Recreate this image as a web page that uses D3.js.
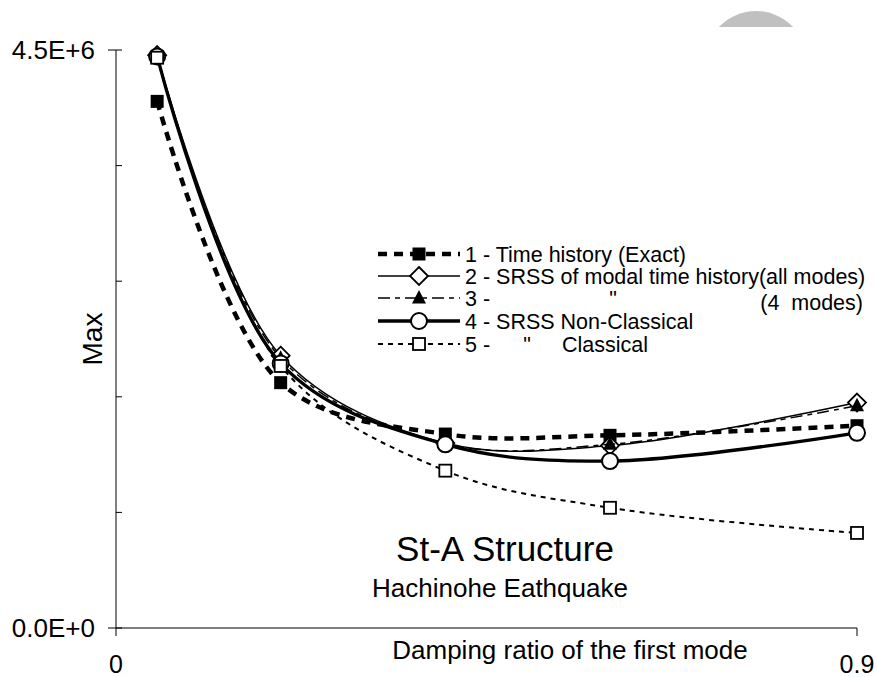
<!DOCTYPE html>
<html>
<head>
<meta charset="utf-8">
<script src="https://cdn.jsdelivr.net/npm/d3@7"></script>
<style>
  body { margin: 0; background: #fff; }
  svg { font-family: "Liberation Sans", Arial, sans-serif; }
</style>
</head>
<body>
<div id="chart"></div>
<script>
var damping = [0.05, 0.2, 0.4, 0.6, 0.9];
var timeHistory = [4.10e6, 1.91e6, 1.51e6, 1.50e6, 1.575e6];
var srssAllModes = [4.46e6, 2.12e6, 1.44e6, 1.42e6, 1.755e6];
var srss4Modes = [4.45e6, 2.10e6, 1.435e6, 1.43e6, 1.73e6];
var srssNonClassical = [4.45e6, 2.06e6, 1.43e6, 1.30e6, 1.52e6];
var srssClassical = [4.44e6, 2.04e6, 1.225e6, 0.936e6, 0.74e6];
var yTicks = [0, 0.9e6, 1.8e6, 2.7e6, 3.6e6, 4.5e6];
var yTickLabels = ["0.0E+0", "", "", "", "", "4.5E+6"];
var xTicks = [0, 0.9];
var xTickLabels = ["0", "0.9"];

var width = 877, height = 677;

var series = [
    { values: timeHistory, width: 4.5, dash: "9,7", marker: "fsquare" },
    { values: srssAllModes, width: 1.5, dash: null, marker: "diamond" },
    { values: srss4Modes, width: 1.5, dash: "12,5,5,5", marker: "triangle" },
    { values: srssNonClassical, width: 3.3, dash: null, marker: "circle" },
    { values: srssClassical, width: 2, dash: "5,5", marker: "osquare" }
];

var svg = d3.select("#chart")
    .append("svg")
    .attr("width", width)
    .attr("height", height);

// grey disc at top, cut off
svg.append("clipPath").attr("id", "topclip")
    .append("rect").attr("x", 0).attr("y", 0).attr("width", width).attr("height", 27);
svg.append("circle")
    .attr("cx", 756).attr("cy", 62).attr("r", 51)
    .attr("fill", "#c0c0c0")
    .attr("clip-path", "url(#topclip)");

var xScale = d3.scaleLinear().domain([0, 0.9]).range([116, 857]);
var yScale = d3.scaleLinear().domain([0, 4.5e6]).range([628, 50]);

// y axis
var yAxis = svg.append("g").attr("transform", "translate(" + xScale(0) + ",0)");
yAxis.append("line")
    .attr("y1", yScale(0)).attr("y2", yScale(4.5e6))
    .attr("stroke", "#000").attr("stroke-width", 1);
yAxis.selectAll(".ytick")
    .data(yTicks)
    .enter().append("line")
    .attr("class", "ytick")
    .attr("x1", function(d, i) { return yTickLabels[i] ? -8 : 0; })
    .attr("x2", 6)
    .attr("y1", function(d) { return yScale(d); })
    .attr("y2", function(d) { return yScale(d); })
    .attr("stroke", "#000");
yAxis.selectAll(".ylab")
    .data(yTicks)
    .enter().append("text")
    .attr("x", -21)
    .attr("y", function(d) { return yScale(d); })
    .attr("dy", "0.36em")
    .attr("text-anchor", "end")
    .style("font-size", "26px")
    .text(function(d, i) { return yTickLabels[i]; });

// x axis
var xAxis = svg.append("g").attr("transform", "translate(0," + yScale(0) + ")");
xAxis.append("line")
    .attr("x1", xScale(0)).attr("x2", xScale(0.9))
    .attr("stroke", "#000");
xAxis.selectAll(".xtick")
    .data(xTicks)
    .enter().append("line")
    .attr("x1", function(d) { return xScale(d); })
    .attr("x2", function(d) { return xScale(d); })
    .attr("y1", 0).attr("y2", 8)
    .attr("stroke", "#000");
xAxis.selectAll(".xlab")
    .data(xTicks)
    .enter().append("text")
    .attr("x", function(d) { return xScale(d); })
    .attr("y", 45)
    .attr("text-anchor", "middle")
    .style("font-size", "25px")
    .text(function(d, i) { return xTickLabels[i]; });

svg.append("text")
    .attr("x", 570).attr("y", 659)
    .attr("text-anchor", "middle")
    .style("font-size", "26px")
    .text("Damping ratio of the first mode");

svg.append("text")
    .attr("transform", "translate(92,339) rotate(-90)")
    .attr("dy", "0.36em")
    .attr("text-anchor", "middle")
    .style("font-size", "28px")
    .text("Max");

svg.append("text")
    .attr("x", 505).attr("y", 561)
    .attr("text-anchor", "middle")
    .style("font-size", "35px")
    .text("St-A Structure");
svg.append("text")
    .attr("x", 500).attr("y", 597)
    .attr("text-anchor", "middle")
    .style("font-size", "26px")
    .text("Hachinohe Eathquake");

function drawMarker(g, type, x, y) {
    if (type == "fsquare") {
        g.append("rect").attr("x", x - 6.5).attr("y", y - 6.5).attr("width", 13).attr("height", 13)
            .attr("fill", "#000");
    } else if (type == "osquare") {
        g.append("rect").attr("x", x - 6).attr("y", y - 6).attr("width", 12).attr("height", 12)
            .attr("fill", "#fff").attr("stroke", "#000").attr("stroke-width", 1.8);
    } else if (type == "diamond") {
        g.append("path").attr("d", "M" + x + "," + (y - 9) + "L" + (x + 9) + "," + y + "L" + x + "," + (y + 9) + "L" + (x - 9) + "," + y + "Z")
            .attr("fill", "#fff").attr("stroke", "#000").attr("stroke-width", 1.8);
    } else if (type == "triangle") {
        g.append("path").attr("d", "M" + x + "," + (y - 8) + "L" + (x + 7) + "," + (y + 5.5) + "L" + (x - 7) + "," + (y + 5.5) + "Z")
            .attr("fill", "#000");
    } else if (type == "circle") {
        g.append("circle").attr("cx", x).attr("cy", y).attr("r", 8)
            .attr("fill", "#fff").attr("stroke", "#000").attr("stroke-width", 2);
    }
}

var line = d3.line()
    .x(function(d, i) { return xScale(damping[i]); })
    .y(function(d) { return yScale(d); })
    .curve(d3.curveCatmullRom.alpha(0.5));

series.forEach(function(s) {
    var g = svg.append("g");
    g.append("path")
        .attr("d", line(s.values))
        .attr("fill", "none")
        .attr("stroke", "#000")
        .attr("stroke-width", s.width)
        .attr("stroke-dasharray", s.dash);
    s.values.forEach(function(v, i) {
        drawMarker(g, s.marker, xScale(damping[i]), yScale(v));
    });
});

// legend
var legendRows = [
    "1 - Time history (Exact)",
    "2 - SRSS of modal time history(all modes)",
    "3 -",
    "4 - SRSS Non-Classical",
    "5 -"
];
var legendY = [254, 276, 298, 321, 344];
var legend = svg.append("g").style("font-size", "21.5px");
series.forEach(function(s, i) {
    var y = legendY[i];
    legend.append("line")
        .attr("x1", 378).attr("x2", 460).attr("y1", y).attr("y2", y)
        .attr("stroke", "#000").attr("stroke-width", s.width)
        .attr("stroke-dasharray", s.dash);
    drawMarker(legend, s.marker, 419, y);
    legend.append("text")
        .attr("x", 465).attr("y", y).attr("dy", "0.36em")
        .text(legendRows[i]);
});
legend.append("text").attr("x", 613).attr("y", legendY[2]).attr("dy", "0.36em")
    .attr("text-anchor", "middle").text("\"");
legend.append("text").attr("x", 863).attr("y", legendY[2] + 4).attr("dy", "0.36em")
    .attr("text-anchor", "end").style("white-space", "pre").text("(4  modes)");
legend.append("text").attr("x", 527).attr("y", legendY[4]).attr("dy", "0.36em")
    .attr("text-anchor", "middle").text("\"");
legend.append("text").attr("x", 562).attr("y", legendY[4]).attr("dy", "0.36em")
    .text("Classical");
</script>
</body>
</html>
